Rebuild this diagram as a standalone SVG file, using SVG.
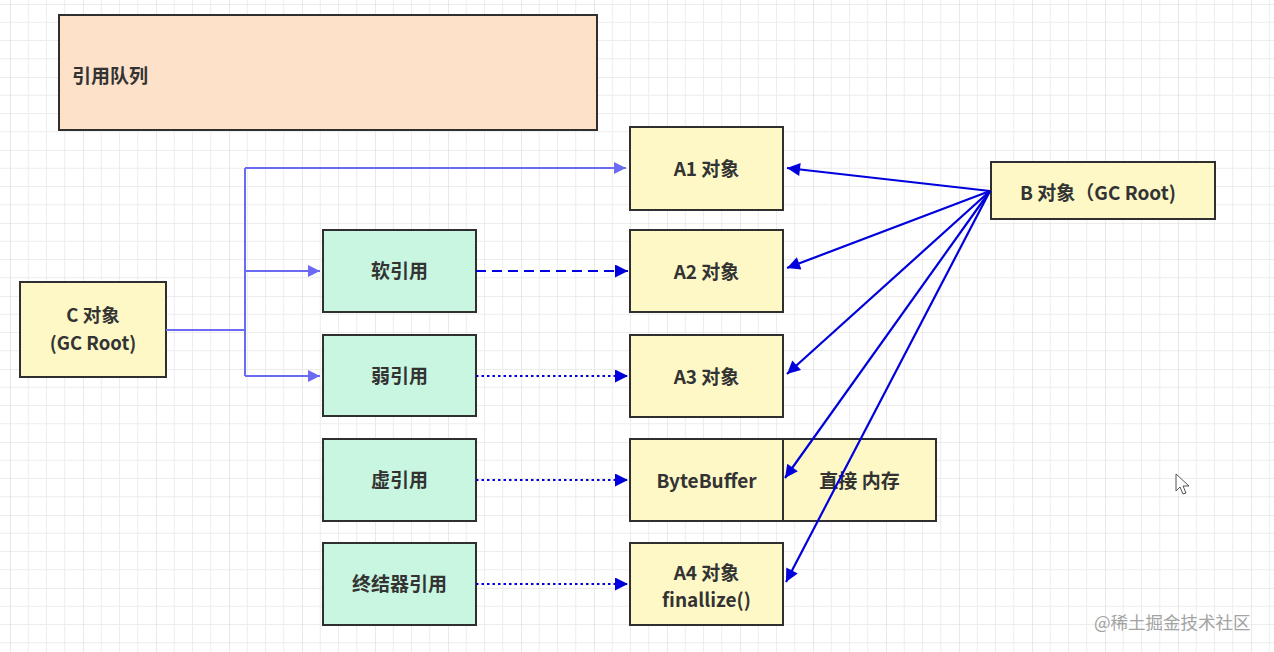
<svg xmlns="http://www.w3.org/2000/svg" width="1274" height="652" viewBox="0 0 1274 652">
<defs>
<pattern id="grid" x="10" y="4" width="73" height="73" patternUnits="userSpaceOnUse">
<path d="M0 0V73M18.25 0V73M36.5 0V73M54.75 0V73M0 0H73M0 18.25H73M0 36.5H73M0 54.75H73" stroke="#ededed" stroke-width="1" fill="none"/>
<path d="M0 0V73M0 0H73" stroke="#e0e0e0" stroke-width="1.2" fill="none"/>
</pattern>
<marker id="ah" viewBox="0 0 10 10" refX="10" refY="5" markerWidth="19" markerHeight="13" markerUnits="userSpaceOnUse" orient="auto">
<path d="M0 0L10 5L0 10Z" fill="#0000dd"/>
</marker>
<marker id="ahl" viewBox="0 0 10 10" refX="10" refY="5" markerWidth="18" markerHeight="12" markerUnits="userSpaceOnUse" orient="auto">
<path d="M0 0L10 5L0 10Z" fill="#6a6af2"/>
</marker>
</defs>
<style>
.box{stroke:#2f2f2f;stroke-width:2}
.y{fill:#fdf8c6}
.g{fill:#c8f6e1}
.p{fill:#fde2c9}
text{font-family:"Noto Sans CJK SC","Liberation Sans",sans-serif;font-weight:bold;font-size:19px;fill:#333}
.c{text-anchor:middle}
.light{stroke:#6a6af2;stroke-width:2;fill:none}
.dark{stroke:#0000dd;stroke-width:2.2;fill:none}
.dash{stroke-dasharray:10 6}
.dot{stroke-dasharray:2.5 3}
</style>
<rect width="1274" height="652" fill="#ffffff"/>
<rect width="1274" height="652" fill="url(#grid)"/>

<g id="queue"><rect class="box p" x="59" y="15" width="538" height="115"/><text x="72" y="83">引用队列</text></g>
<g id="c-obj"><rect class="box y" x="20" y="282" width="146" height="95"/><text class="c" x="93" y="322" style="font-size:18.5px">C 对象</text><text class="c" x="93" y="350" style="font-size:18.5px">(GC Root)</text></g>
<g id="soft"><rect class="box g" x="323" y="230" width="153" height="82"/><text class="c" x="399.5" y="278">软引用</text></g>
<g id="weak"><rect class="box g" x="323" y="335" width="153" height="81"/><text class="c" x="399.5" y="383">弱引用</text></g>
<g id="phantom"><rect class="box g" x="323" y="439" width="153" height="82"/><text class="c" x="399.5" y="487">虚引用</text></g>
<g id="final"><rect class="box g" x="323" y="543" width="153" height="82"/><text class="c" x="399.5" y="591">终结器引用</text></g>
<g id="a1"><rect class="box y" x="630" y="127" width="153" height="83"/><text class="c" x="706.5" y="176">A1 对象</text></g>
<g id="a2"><rect class="box y" x="630" y="230" width="153" height="82"/><text class="c" x="706.5" y="279">A2 对象</text></g>
<g id="a3"><rect class="box y" x="630" y="335" width="153" height="82"/><text class="c" x="706.5" y="384">A3 对象</text></g>
<g id="bytebuffer"><rect class="box y" x="630" y="439" width="153" height="82"/><text class="c" x="706.5" y="488">ByteBuffer</text></g>
<g id="direct"><rect class="box y" x="783" y="439" width="153" height="82"/><text class="c" x="859.5" y="488">直接 内存</text></g>
<g id="a4"><rect class="box y" x="630" y="543" width="153" height="82"/><text class="c" x="706.5" y="580">A4 对象</text><text class="c" x="706.5" y="607">finallize()</text></g>
<g id="b-obj"><rect class="box y" x="991" y="162" width="224" height="57"/><text class="c" x="1098" y="200">B 对象（GC Root)</text></g>

<g id="connectors">
<path class="light" d="M166 330H245M245 168V376"/>
<path class="light" d="M245 168H626" marker-end="url(#ahl)"/>
<path class="light" d="M245 271H320" marker-end="url(#ahl)"/>
<path class="light" d="M245 376H320" marker-end="url(#ahl)"/>
<path class="dark dash" d="M476 271H628" marker-end="url(#ah)"/>
<path class="dark dot" d="M476 376H628" marker-end="url(#ah)"/>
<path class="dark dot" d="M476 480H628" marker-end="url(#ah)"/>
<path class="dark dot" d="M476 584H628" marker-end="url(#ah)"/>
<path class="dark" d="M990 191L787 168" marker-end="url(#ah)"/>
<path class="dark" d="M990 191L787 268" marker-end="url(#ah)"/>
<path class="dark" d="M990 191L787 374" marker-end="url(#ah)"/>
<path class="dark" d="M990 191L785 478" marker-end="url(#ah)"/>
<path class="dark" d="M990 191L786 582" marker-end="url(#ah)"/>
</g>

<path d="M1176 474V491L1180 487L1183 494L1186 493L1183 486L1189 486Z" fill="#fff" stroke="#555" stroke-width="1"/>
<text x="1094" y="629" style="font-weight:normal;font-size:17.5px;fill:#a3a3a3">@稀土掘金技术社区</text>
</svg>
